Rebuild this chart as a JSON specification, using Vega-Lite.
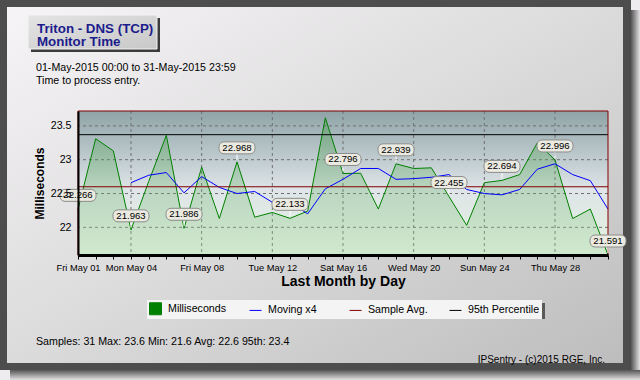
{
  "$schema": "https://vega.github.io/schema/vega-lite/v6.json",
  "width": 530,
  "height": 144,
  "autosize": "none",
  "padding": {"left": 78, "top": 111, "right": 32, "bottom": 125},
  "background": "#efecef",
  "view": {"stroke": null},
  "datasets": {
    "d": [
      {"date": "2015-05-01", "ms": 22.266},
      {"date": "2015-05-02", "ms": 23.31},
      {"date": "2015-05-03", "ms": 23.13},
      {"date": "2015-05-04", "ms": 21.963, "ma": 22.66},
      {"date": "2015-05-05", "ms": 22.677, "ma": 22.77},
      {"date": "2015-05-06", "ms": 23.36, "ma": 22.81},
      {"date": "2015-05-07", "ms": 21.986, "ma": 22.51},
      {"date": "2015-05-08", "ms": 22.89, "ma": 22.75},
      {"date": "2015-05-09", "ms": 22.13, "ma": 22.59},
      {"date": "2015-05-10", "ms": 22.968, "ma": 22.5},
      {"date": "2015-05-11", "ms": 22.15, "ma": 22.53},
      {"date": "2015-05-12", "ms": 22.22, "ma": 22.37},
      {"date": "2015-05-13", "ms": 22.133, "ma": 22.37},
      {"date": "2015-05-14", "ms": 22.24, "ma": 22.2},
      {"date": "2015-05-15", "ms": 23.62, "ma": 22.57},
      {"date": "2015-05-16", "ms": 22.796, "ma": 22.71},
      {"date": "2015-05-17", "ms": 22.8, "ma": 22.87},
      {"date": "2015-05-18", "ms": 22.27, "ma": 22.87},
      {"date": "2015-05-19", "ms": 22.939, "ma": 22.71},
      {"date": "2015-05-20", "ms": 22.87, "ma": 22.72},
      {"date": "2015-05-21", "ms": 22.88, "ma": 22.74},
      {"date": "2015-05-22", "ms": 22.455, "ma": 22.78},
      {"date": "2015-05-23", "ms": 22.03, "ma": 22.56},
      {"date": "2015-05-24", "ms": 22.66, "ma": 22.5},
      {"date": "2015-05-25", "ms": 22.694, "ma": 22.48},
      {"date": "2015-05-26", "ms": 22.78, "ma": 22.56},
      {"date": "2015-05-27", "ms": 23.25, "ma": 22.86},
      {"date": "2015-05-28", "ms": 22.996, "ma": 22.94},
      {"date": "2015-05-29", "ms": 22.13, "ma": 22.78},
      {"date": "2015-05-30", "ms": 22.27, "ma": 22.69},
      {"date": "2015-05-31", "ms": 21.591, "ma": 22.27}
    ]
  },
  "layer": [
    {
      "data": {"values": [{}]},
      "mark": {"type": "rect", "fill": "#4d4d4d"},
      "encoding": {"x": {"value": -78}, "x2": {"value": 553}, "y": {"value": -111}, "y2": {"value": 259}}
    },
    {
      "data": {"values": [{}]},
      "mark": {"type": "rect", "fill": {"gradient": "linear", "x1": 0, "y1": 0, "x2": 1, "y2": 0, "stops": [{"offset": 0, "color": "#555555"}, {"offset": 1, "color": "#e4e2e4"}]}},
      "encoding": {"x": {"value": 553}, "x2": {"value": 562}, "y": {"value": -101}, "y2": {"value": 269}}
    },
    {
      "data": {"values": [{}]},
      "mark": {"type": "rect", "fill": {"gradient": "linear", "x1": 0, "y1": 0, "x2": 0, "y2": 1, "stops": [{"offset": 0, "color": "#555555"}, {"offset": 1, "color": "#e4e2e4"}]}},
      "encoding": {"x": {"value": -68}, "x2": {"value": 562}, "y": {"value": 259}, "y2": {"value": 269}}
    },
    {
      "data": {"values": [{}]},
      "mark": {"type": "rect", "fill": {"gradient": "linear", "x1": 0, "y1": 0, "x2": 1, "y2": 1, "stops": [{"offset": 0, "color": "#f6f4f6"}, {"offset": 0.5, "color": "#dcdbdc"}, {"offset": 1, "color": "#bdbdbd"}]}},
      "encoding": {"x": {"value": -71}, "x2": {"value": 545}, "y": {"value": -104}, "y2": {"value": 252}}
    },
    {
      "data": {"values": [{}]},
      "mark": {"type": "rect", "fill": "#3c3c3c"},
      "encoding": {"x": {"value": -47}, "x2": {"value": 82}, "y": {"value": -93}, "y2": {"value": -59}}
    },
    {
      "data": {"values": [{}]},
      "mark": {"type": "rect", "stroke": "#f4f4f4", "strokeWidth": 1, "fill": {"gradient": "linear", "x1": 0, "y1": 0, "x2": 1, "y2": 1, "stops": [{"offset": 0, "color": "#e4e4e4"}, {"offset": 1, "color": "#c8c8c8"}]}},
      "encoding": {"x": {"value": -50}, "x2": {"value": 79}, "y": {"value": -96}, "y2": {"value": -62}}
    },
    {
      "data": {"values": [{}]},
      "mark": {"type": "text", "align": "left", "baseline": "middle", "font": "Liberation Sans", "fontSize": 13.33, "fontWeight": "bold", "color": "#1c1c8c", "text": "Triton - DNS (TCP)"},
      "encoding": {"x": {"value": -41}, "y": {"value": -82.5}}
    },
    {
      "data": {"values": [{}]},
      "mark": {"type": "text", "align": "left", "baseline": "middle", "font": "Liberation Sans", "fontSize": 13.33, "fontWeight": "bold", "color": "#1c1c8c", "text": "Monitor Time"},
      "encoding": {"x": {"value": -41}, "y": {"value": -69.3}}
    },
    {
      "data": {"values": [{}]},
      "mark": {"type": "text", "align": "left", "baseline": "middle", "font": "Liberation Sans", "fontSize": 10.67, "color": "#000000", "text": "01-May-2015 00:00 to 31-May-2015 23:59"},
      "encoding": {"x": {"value": -42}, "y": {"value": -43}}
    },
    {
      "data": {"values": [{}]},
      "mark": {"type": "text", "align": "left", "baseline": "middle", "font": "Liberation Sans", "fontSize": 10.67, "color": "#000000", "text": "Time to process entry."},
      "encoding": {"x": {"value": -42}, "y": {"value": -30}}
    },
    {
      "data": {"values": [{}]},
      "mark": {"type": "rect", "fill": "#5a5a5a"},
      "encoding": {"x": {"value": 72}, "x2": {"value": 467}, "y": {"value": 192}, "y2": {"value": 208}}
    },
    {
      "data": {"values": [{}]},
      "mark": {"type": "text", "align": "left", "baseline": "middle", "font": "Liberation Sans", "fontSize": 10.67, "color": "#000000", "text": "Samples: 31 Max: 23.6 Min: 21.6 Avg: 22.6 95th: 23.4"},
      "encoding": {"x": {"value": -42}, "y": {"value": 231}}
    },
    {
      "data": {"values": [{}]},
      "mark": {"type": "text", "align": "right", "baseline": "middle", "font": "Liberation Sans", "fontSize": 10, "color": "#000000", "text": "IPSentry - (c)2015 RGE, Inc."},
      "encoding": {"x": {"value": 527}, "y": {"value": 249}}
    },
    {
      "data": {"values": [{}]},
      "mark": {"type": "rect", "fill": {"gradient": "linear", "x1": 0, "y1": 0, "x2": 0, "y2": 1, "stops": [{"offset": 0, "color": "#8fa4a8"}, {"offset": 0.55, "color": "#dfe5e8"}, {"offset": 1, "color": "#e2f2de"}]}},
      "encoding": {"x": {"value": 0}, "x2": {"value": "width"}, "y": {"value": 0}, "y2": {"value": "height"}}
    },
    {
      "data": {"values": [{"g": "2015-05-04"}, {"g": "2015-05-08"}, {"g": "2015-05-12"}, {"g": "2015-05-16"}, {"g": "2015-05-20"}, {"g": "2015-05-24"}, {"g": "2015-05-28"}]},
      "mark": {"type": "rule", "stroke": "#707070", "strokeWidth": 1, "strokeDash": [3, 3]},
      "encoding": {
        "x": {"field": "g", "type": "temporal", "title": "Last Month by Day", "scale": {"type": "utc", "domain": [{"year": 2015, "month": 5, "date": 1, "utc": true}, {"year": 2015, "month": 5, "date": 31, "utc": true}]}}
      }
    },
    {
      "data": {"values": [{"v": 22}, {"v": 22.5}, {"v": 23}, {"v": 23.5}]},
      "mark": {"type": "rule", "stroke": "#707070", "strokeWidth": 1, "strokeDash": [3, 3]},
      "encoding": {
        "y": {"field": "v", "type": "quantitative", "title": "Milliseconds", "scale": {"domain": [21.591, 23.72], "zero": false, "nice": false}}
      }
    },
    {
      "data": {"name": "d"},
      "mark": {"type": "area", "fillOpacity": 0.3, "fill": {"gradient": "linear", "x1": 0, "y1": 0, "x2": 0, "y2": 1, "stops": [{"offset": 0, "color": "#208a20"}, {"offset": 1, "color": "#a8d8a8"}]}},
      "encoding": {
        "x": {
          "field": "date", "type": "temporal", "title": "Last Month by Day",
          "scale": {"type": "utc", "domain": [{"year": 2015, "month": 5, "date": 1, "utc": true}, {"year": 2015, "month": 5, "date": 31, "utc": true}]},
          "axis": {
            "zindex": 1, "grid": false,
            "title": "Last Month by Day", "titleFontSize": 14, "titleFontWeight": "bold", "titlePadding": 2,
            "labelFontSize": 9.33, "labelPadding": 4, "tickSize": 4, "domainWidth": 3,
            "labelFlush": false, "labelOverlap": false, "labelBound": false,
            "tickCount": {"interval": "day", "step": 1},
            "labelExpr": "indexof([1,4,8,12,16,20,24,28], utcdate(datum.value)) >= 0 ? utcFormat(datum.value, '%a %b %d') : ''"
          }
        },
        "y": {
          "field": "ms", "type": "quantitative", "title": "Milliseconds",
          "scale": {"domain": [21.591, 23.72], "zero": false, "nice": false},
          "axis": {
            "zindex": 1, "grid": false,
            "title": "Milliseconds", "titleFontSize": 12, "titleFontWeight": "bold", "titlePadding": 4,
            "labelFontSize": 10.67, "labelPadding": 7, "ticks": false, "domainWidth": 2,
            "values": [22, 22.5, 23, 23.5], "format": "~g"
          }
        },
        "y2": {"datum": 21.591}
      }
    },
    {
      "data": {"name": "d"},
      "mark": {"type": "line", "stroke": "#008000", "strokeWidth": 1},
      "encoding": {
        "x": {"field": "date", "type": "temporal", "title": "Last Month by Day", "scale": {"type": "utc", "domain": [{"year": 2015, "month": 5, "date": 1, "utc": true}, {"year": 2015, "month": 5, "date": 31, "utc": true}]}},
        "y": {"field": "ms", "type": "quantitative", "title": "Milliseconds", "scale": {"domain": [21.591, 23.72], "zero": false, "nice": false}}
      }
    },
    {
      "data": {"name": "d"},
      "mark": {"type": "line", "stroke": "#0000ff", "strokeWidth": 1},
      "encoding": {
        "x": {"field": "date", "type": "temporal", "title": "Last Month by Day", "scale": {"type": "utc", "domain": [{"year": 2015, "month": 5, "date": 1, "utc": true}, {"year": 2015, "month": 5, "date": 31, "utc": true}]}},
        "y": {"field": "ma", "type": "quantitative", "title": "Milliseconds", "scale": {"domain": [21.591, 23.72], "zero": false, "nice": false}}
      }
    },
    {
      "data": {"values": [{"avg": 22.6}]},
      "mark": {"type": "rule", "stroke": "#800000", "strokeWidth": 1},
      "encoding": {
        "y": {"field": "avg", "type": "quantitative", "title": "Milliseconds", "scale": {"domain": [21.591, 23.72], "zero": false, "nice": false}}
      }
    },
    {
      "data": {"values": [{"p95": 23.37}]},
      "mark": {"type": "rule", "stroke": "#000000", "strokeWidth": 1},
      "encoding": {
        "y": {"field": "p95", "type": "quantitative", "title": "Milliseconds", "scale": {"domain": [21.591, 23.72], "zero": false, "nice": false}}
      }
    },
    {
      "data": {"values": [{}]},
      "mark": {"type": "rect", "fill": null, "fillOpacity": 0, "stroke": "#800000", "strokeWidth": 1},
      "encoding": {"x": {"value": 0}, "x2": {"value": "width"}, "y": {"value": 0}, "y2": {"value": "height"}}
    },
    {
      "data": {"name": "d"},
      "transform": [{"filter": "utcdate(toDate(datum.date)) % 3 == 1"}],
      "mark": {"type": "rule", "stroke": "#ffffff", "strokeWidth": 1, "yOffset": -8, "y2Offset": -2},
      "encoding": {
        "x": {"field": "date", "type": "temporal", "title": "Last Month by Day", "scale": {"type": "utc", "domain": [{"year": 2015, "month": 5, "date": 1, "utc": true}, {"year": 2015, "month": 5, "date": 31, "utc": true}]}},
        "y": {"field": "ms", "type": "quantitative", "title": "Milliseconds", "scale": {"domain": [21.591, 23.72], "zero": false, "nice": false}},
        "y2": {"field": "ms"}
      }
    },
    {
      "data": {"name": "d"},
      "transform": [{"filter": "utcdate(toDate(datum.date)) % 3 == 1"}],
      "mark": {"type": "rect", "xOffset": -18, "x2Offset": 18, "yOffset": -20, "y2Offset": -8, "cornerRadius": 5, "fill": "#ebeae0", "stroke": "#8c8c8c", "strokeWidth": 1},
      "encoding": {
        "x": {"field": "date", "type": "temporal", "title": "Last Month by Day", "scale": {"type": "utc", "domain": [{"year": 2015, "month": 5, "date": 1, "utc": true}, {"year": 2015, "month": 5, "date": 31, "utc": true}]}},
        "x2": {"field": "date"},
        "y": {"field": "ms", "type": "quantitative", "title": "Milliseconds", "scale": {"domain": [21.591, 23.72], "zero": false, "nice": false}},
        "y2": {"field": "ms"}
      }
    },
    {
      "data": {"name": "d"},
      "transform": [{"filter": "utcdate(toDate(datum.date)) % 3 == 1"}],
      "mark": {"type": "text", "dy": -14, "baseline": "middle", "align": "center", "font": "Liberation Sans", "fontSize": 9.6, "color": "#000000"},
      "encoding": {
        "x": {"field": "date", "type": "temporal", "title": "Last Month by Day", "scale": {"type": "utc", "domain": [{"year": 2015, "month": 5, "date": 1, "utc": true}, {"year": 2015, "month": 5, "date": 31, "utc": true}]}},
        "y": {"field": "ms", "type": "quantitative", "title": "Milliseconds", "scale": {"domain": [21.591, 23.72], "zero": false, "nice": false}},
        "text": {"field": "ms", "type": "quantitative", "format": ".3f"}
      }
    },
    {
      "data": {"values": [{"s": "Milliseconds"}, {"s": "Moving x4"}, {"s": "Sample Avg."}, {"s": "95th Percentile"}]},
      "mark": {"type": "point", "filled": true, "opacity": 0},
      "encoding": {
        "x": {"value": 0},
        "y": {"value": 0},
        "fill": {"field": "s", "type": "nominal", "title": null, "scale": {"domain": ["Milliseconds", "Moving x4", "Sample Avg.", "95th Percentile"], "range": ["#008000", "#0000ff", "#800000", "#000000"]}},
        "stroke": {"field": "s", "type": "nominal", "title": null, "scale": {"domain": ["Milliseconds", "Moving x4", "Sample Avg.", "95th Percentile"], "range": ["#008000", "#0000ff", "#800000", "#000000"]}},
        "shape": {"field": "s", "type": "nominal", "title": null, "scale": {"domain": ["Milliseconds", "Moving x4", "Sample Avg.", "95th Percentile"], "range": ["square", "stroke", "stroke", "stroke"]}}
      }
    }
  ],
  "config": {
    "font": "Liberation Sans",
    "axis": {
      "labelFont": "Liberation Sans", "titleFont": "Liberation Sans",
      "labelColor": "#000000", "titleColor": "#000000",
      "domainColor": "#000000", "tickColor": "#000000",
      "grid": false
    },
    "legend": {
      "orient": "none", "legendX": 69, "legendY": 189,
      "direction": "horizontal", "columns": 4, "columnPadding": 7, "gridAlign": "all",
      "padding": 2, "fillColor": "#f4f4f4",
      "labelFont": "Liberation Sans", "labelFontSize": 10.67, "labelColor": "#000000",
      "labelOffset": 6, "symbolSize": 144, "symbolStrokeWidth": 1, "symbolOpacity": 1
    }
  }
}
